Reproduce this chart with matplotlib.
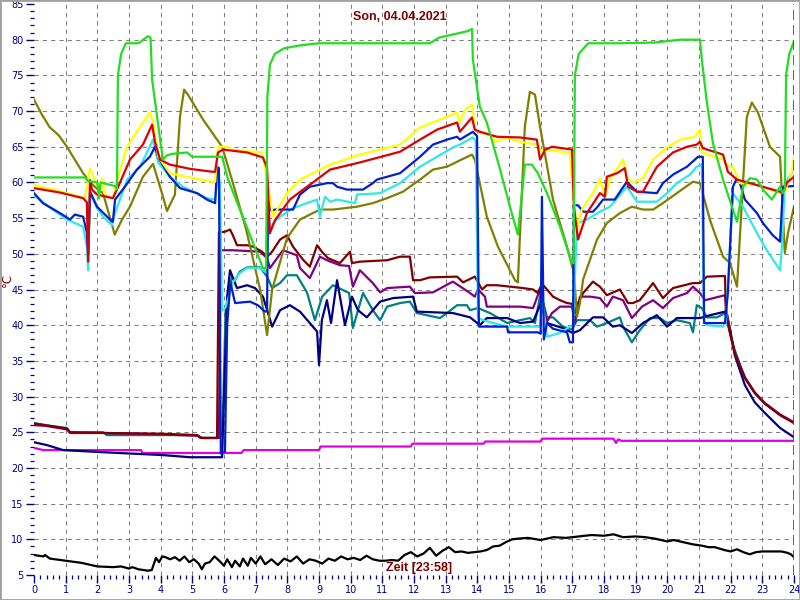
import numpy as np
import matplotlib
matplotlib.use("Agg")
import matplotlib.pyplot as plt
from matplotlib.patches import Rectangle

# (hour, degC) points
green = [(0, 60.7), (1.61, 60.7), (1.7, 60.2), (2.0, 60.0), (2.05, 57.8), (2.1, 60.0), (2.55, 59.5), (2.62, 59.0),
         (2.65, 75.0), (2.75, 78.0), (2.9, 79.5), (3.3, 79.5), (3.45, 80.0), (3.6, 80.5), (3.68, 80.3), (3.73, 74.4),
         (4.07, 63.2), (4.2, 63.8), (4.36, 64.0), (4.83, 64.2), (5.0, 63.6), (5.94, 63.6), (6.13, 60.4), (7.23, 48.0),
         (7.33, 48.0), (7.37, 72.0), (7.45, 76.5), (7.6, 78.0), (7.9, 78.8), (8.4, 79.2), (9.0, 79.5), (12.5, 79.5),
         (12.8, 80.3), (13.3, 80.8), (13.7, 81.2), (13.83, 81.5), (13.86, 77.2), (14.08, 70.6), (14.3, 68.4),
         (14.72, 61.8), (15.03, 56.6), (15.28, 52.7), (15.5, 62.5), (15.72, 62.5), (15.91, 61.3), (16.2, 58.5),
         (16.61, 53.8), (16.99, 48.7), (17.04, 48.7), (17.08, 75.0), (17.2, 78.0), (17.5, 79.5), (18.5, 79.5),
         (19.6, 79.6), (20.4, 80.0), (21.03, 80.0), (21.09, 77.2), (21.19, 73.4), (21.25, 71.2), (21.44, 65.5),
         (21.76, 60.4), (22.04, 56.6), (22.2, 54.5), (22.39, 59.4), (22.61, 60.6), (22.83, 60.4), (23.02, 59.0),
         (23.3, 57.6), (23.56, 59.4), (23.65, 58.5), (23.71, 59.0), (23.75, 75.0), (23.85, 78.0), (24.0, 79.8)]

olive = [(0, 71.6), (0.25, 69.5), (0.5, 67.7), (0.66, 67.1), (0.8, 66.5), (1.04, 65.0), (1.55, 61.3), (1.8, 59.9),
         (2.02, 59.0), (2.18, 58.5), (2.55, 52.7), (2.78, 54.8), (3.03, 56.6), (3.44, 60.8), (3.76, 62.6), (4.04, 58.5),
         (4.2, 56.0), (4.45, 58.3), (4.61, 69.2), (4.74, 73.0), (4.86, 72.3), (5.34, 68.8), (5.78, 66.0), (5.94, 65.0),
         (6.25, 60.4), (6.7, 53.4), (7.14, 45.0), (7.36, 38.6), (7.52, 45.0), (7.99, 52.2), (8.4, 54.8), (9.03, 56.2),
         (9.44, 56.2), (10.2, 56.6), (10.7, 57.1), (11.15, 57.8), (11.65, 58.7), (12.19, 60.4), (12.6, 61.8),
         (13.04, 62.2), (13.36, 62.9), (13.83, 63.9), (13.92, 63.2), (14.3, 55.2), (14.65, 51.0), (15.19, 46.3),
         (15.28, 46.0), (15.5, 67.8), (15.66, 72.7), (15.82, 72.3), (15.98, 67.8), (16.39, 57.6), (16.83, 51.0),
         (17.05, 47.3), (17.15, 41.2), (17.24, 43.1), (17.34, 46.4), (17.78, 52.0), (18.09, 54.3), (18.5, 55.7),
         (18.88, 56.6), (19.23, 56.2), (19.55, 56.2), (19.86, 57.1), (20.3, 58.5), (20.81, 60.1), (21.03, 59.9),
         (21.35, 54.7), (21.76, 49.6), (21.98, 48.7), (22.2, 45.4), (22.51, 69.2), (22.67, 71.2), (22.86, 69.8),
         (23.24, 65.0), (23.56, 63.6), (23.71, 50.1), (23.81, 52.9), (24.0, 56.6)]

yellow = [(0, 59.6), (0.8, 58.8), (1.61, 57.8), (1.77, 62.0), (1.93, 60.3), (2.08, 58.9), (2.15, 60.5), (2.22, 58.5),
          (2.34, 58.0), (2.49, 57.8), (2.62, 60.3), (2.94, 65.0), (3.35, 67.8), (3.66, 69.8), (3.76, 68.4), (3.92, 63.6),
          (4.29, 61.3), (4.83, 60.8), (5.62, 60.1), (5.72, 60.1), (5.81, 65.0), (6.09, 65.0), (6.25, 64.6), (7.2, 64.2),
          (7.3, 62.0), (7.55, 55.2), (7.99, 58.5), (8.4, 60.4), (9.35, 62.5), (10.29, 63.9), (11.56, 65.3),
          (12.19, 67.7), (12.82, 68.8), (13.36, 69.8), (13.45, 68.4), (13.61, 70.2), (13.83, 70.9), (13.92, 67.4),
          (14.08, 67.0), (14.4, 66.7), (14.56, 65.7), (14.94, 66.3), (15.35, 65.7), (15.88, 65.3), (16.04, 64.3),
          (16.2, 64.5), (16.92, 64.2), (17.02, 58.5), (17.15, 53.4), (17.3, 56.2), (17.65, 58.5), (17.87, 60.5),
          (18.03, 58.0), (18.19, 60.4), (18.6, 63.2), (18.72, 60.8), (18.91, 59.9), (19.23, 60.6), (19.55, 63.2),
          (19.99, 64.9), (20.4, 66.0), (20.87, 66.4), (21.03, 67.4), (21.09, 64.2), (21.76, 63.2), (21.91, 62.2),
          (22.07, 62.2), (22.29, 59.9), (22.83, 59.7), (23.56, 58.5), (23.71, 58.6), (23.93, 61.5), (24.0, 63.6)]

red = [(0, 59.2), (0.8, 58.6), (1.55, 57.8), (1.67, 57.2), (1.71, 48.9), (1.77, 60.3), (1.83, 59.0), (1.99, 58.3),
       (2.49, 57.8), (2.62, 59.0), (3.03, 63.2), (3.44, 65.3), (3.73, 68.1), (3.82, 65.7), (3.98, 63.2), (4.29, 62.5),
       (4.93, 61.9), (5.62, 61.5), (5.72, 61.5), (5.81, 64.2), (5.97, 64.6), (6.73, 64.2), (7.23, 63.5), (7.36, 62.0),
       (7.45, 52.9), (7.61, 54.7), (8.08, 57.6), (8.62, 59.4), (8.78, 59.9), (9.35, 61.8), (10.29, 62.8),
       (11.56, 64.3), (12.19, 66.0), (12.73, 67.4), (13.36, 68.4), (13.45, 67.1), (13.83, 69.1), (13.92, 67.4),
       (14.08, 67.1), (14.62, 66.4), (15.35, 66.3), (15.88, 66.0), (15.98, 63.2), (16.14, 64.6), (16.36, 65.0),
       (16.99, 64.6), (17.05, 56.6), (17.18, 52.0), (17.46, 55.7), (17.87, 58.5), (18.03, 58.0), (18.09, 60.8),
       (18.41, 61.3), (18.66, 62.0), (18.76, 59.4), (19.04, 58.7), (19.23, 58.7), (19.67, 62.2), (20.18, 64.2),
       (20.62, 65.0), (20.93, 65.3), (21.03, 65.7), (21.12, 64.8), (21.76, 63.9), (21.91, 61.5), (22.2, 60.4),
       (22.61, 59.9), (23.56, 58.7), (23.65, 58.5), (23.78, 60.0), (24.0, 60.8)]

cyan = [(0, 58.2), (0.5, 56.5), (1.04, 54.8), (1.55, 53.8), (1.67, 51.0), (1.71, 47.7), (1.77, 58.5), (1.99, 56.4),
        (2.18, 55.2), (2.46, 54.0), (2.56, 55.7), (2.94, 60.4), (3.35, 62.2), (3.76, 66.0), (3.92, 62.8), (4.29, 60.8),
        (4.7, 59.4), (5.46, 57.8), (5.72, 57.6), (5.8, 61.0), (5.87, 60.0), (5.94, 42.0), (6.05, 42.5), (6.28, 46.0),
        (6.5, 47.3), (6.73, 48.0), (7.14, 48.0), (7.29, 47.5), (7.36, 48.5), (7.39, 52.4), (7.55, 54.3), (7.77, 55.2),
        (8.18, 56.4), (8.94, 57.6), (9.03, 55.2), (9.19, 58.0), (9.35, 57.3), (9.57, 57.6), (10.14, 57.1),
        (10.2, 58.3), (10.93, 58.5), (11.56, 59.9), (12.19, 62.2), (12.73, 63.6), (13.23, 64.9), (13.45, 65.3),
        (13.86, 66.3), (13.95, 65.8), (14.02, 41.0), (14.18, 40.7), (14.94, 39.8), (15.76, 39.8), (15.98, 39.8),
        (16.04, 44.0), (16.2, 38.4), (16.61, 38.9), (16.92, 39.8), (17.02, 40.0), (17.15, 54.3), (17.46, 54.8),
        (17.87, 55.9), (18.19, 56.6), (18.72, 59.4), (19.04, 57.3), (19.67, 57.3), (19.99, 58.5), (20.3, 59.9),
        (20.71, 61.1), (20.93, 62.2), (21.09, 62.5), (21.16, 40.5), (21.25, 40.0), (21.76, 39.8), (21.85, 40.5),
        (22.07, 58.5), (22.39, 56.6), (22.83, 52.9), (23.14, 50.5), (23.56, 47.7), (23.62, 51.0), (23.71, 59.9),
        (23.93, 61.3), (24.0, 62.0)]

blue = [(0, 58.5), (0.28, 57.1), (0.82, 55.7), (1.14, 54.8), (1.29, 55.5), (1.55, 55.2), (1.67, 53.0), (1.71, 50.0),
        (1.77, 58.7), (1.99, 56.6), (2.4, 54.8), (2.49, 54.5), (2.56, 57.6), (2.87, 59.4), (3.25, 61.8), (3.66, 63.6),
        (3.82, 65.0), (3.92, 63.5), (4.29, 60.8), (4.61, 59.2), (5.15, 58.5), (5.46, 57.6), (5.72, 57.1),
        (5.78, 62.2), (5.84, 62.0), (5.9, 22.0), (6.03, 22.3), (6.1, 40.0), (6.2, 46.0), (6.35, 43.1), (6.82, 43.3),
        (7.07, 42.8), (7.29, 41.9), (7.36, 42.0), (7.39, 57.6), (7.5, 56.0), (7.61, 56.2), (8.18, 56.2), (8.4, 58.3),
        (8.71, 59.4), (9.25, 59.9), (9.44, 59.9), (9.57, 59.4), (9.88, 59.0), (10.39, 59.0), (10.7, 59.9),
        (10.83, 60.4), (11.56, 61.3), (12.19, 63.6), (12.6, 65.3), (13.04, 66.0), (13.36, 66.4), (13.45, 66.0),
        (13.86, 67.1), (13.99, 66.5), (14.05, 39.8), (14.94, 39.8), (14.97, 39.0), (15.91, 39.0), (16.0, 38.8),
        (16.04, 58.0), (16.1, 38.0), (16.2, 40.3), (16.39, 39.5), (16.83, 39.0), (16.92, 37.6), (17.02, 37.6),
        (17.05, 56.8), (17.18, 56.8), (17.34, 55.9), (17.65, 55.9), (17.78, 56.5), (17.97, 57.6), (18.34, 57.6),
        (18.72, 60.1), (19.04, 58.7), (19.67, 58.5), (19.86, 59.9), (20.18, 61.1), (20.62, 62.2), (20.97, 63.6),
        (21.12, 63.6), (21.16, 40.3), (21.82, 40.3), (21.91, 44.5), (22.07, 59.4), (22.2, 60.6), (22.29, 59.9),
        (22.45, 57.6), (22.83, 55.7), (23.02, 54.3), (23.33, 52.6), (23.56, 51.7), (23.65, 59.4), (24.0, 59.5)]

maroon = [(0, 26.2), (0.35, 26.0), (1.04, 25.5), (1.14, 25.0), (2.18, 24.9), (4.0, 24.8), (5.15, 24.6), (5.3, 24.2),
          (5.78, 24.2), (5.84, 53.0), (6.03, 53.1), (6.19, 53.4), (6.28, 52.6), (6.41, 51.2), (6.73, 51.2),
          (6.92, 51.0), (7.2, 50.3), (7.36, 49.6), (7.52, 50.3), (7.77, 52.0), (7.99, 52.6), (8.18, 51.0),
          (8.49, 49.2), (8.71, 48.2), (8.94, 51.2), (9.09, 50.3), (9.28, 49.4), (9.66, 48.7), (9.98, 50.3),
          (10.04, 48.7), (10.29, 48.9), (11.15, 49.1), (11.56, 49.6), (11.87, 49.6), (11.97, 46.3), (12.19, 46.3),
          (12.5, 46.7), (13.36, 46.8), (13.55, 46.0), (13.92, 46.8), (14.15, 45.0), (14.3, 45.6), (14.62, 45.6),
          (15.44, 45.2), (15.76, 45.0), (15.91, 44.5), (16.04, 45.8), (16.2, 45.0), (16.39, 44.0), (16.61, 43.5),
          (16.83, 43.1), (16.99, 43.0), (17.08, 41.7), (17.18, 43.1), (17.34, 44.5), (17.65, 46.1), (17.87, 45.4),
          (18.09, 44.2), (18.5, 45.0), (18.76, 43.1), (18.91, 43.1), (19.13, 43.5), (19.55, 45.9), (19.86, 43.8),
          (20.18, 45.2), (20.81, 45.9), (21.03, 45.9), (21.25, 46.8), (21.82, 46.9), (21.85, 41.5), (22.0, 38.5),
          (22.13, 36.0), (22.45, 32.6), (22.76, 30.5), (23.08, 29.0), (23.56, 27.4), (24.0, 26.3)]

purple = [(0, 26.0), (0.35, 25.9), (1.04, 25.4), (1.14, 24.9), (2.18, 24.9), (4.0, 24.7), (5.15, 24.5), (5.3, 24.2),
          (5.84, 24.2), (5.9, 50.5), (6.28, 50.5), (7.14, 50.3), (7.36, 49.4), (7.45, 48.0), (7.86, 50.5),
          (8.3, 49.8), (8.4, 48.0), (8.71, 46.6), (9.03, 49.6), (9.25, 49.1), (9.66, 48.4), (9.95, 48.3),
          (10.07, 45.4), (10.29, 47.7), (10.7, 45.9), (10.93, 44.6), (11.15, 45.2), (11.87, 45.4), (12.03, 44.5),
          (12.6, 44.6), (13.14, 45.9), (13.23, 46.1), (13.77, 44.5), (13.92, 44.0), (14.02, 45.0), (14.24, 44.0),
          (14.3, 42.6), (15.35, 42.6), (15.76, 42.4), (15.98, 45.0), (16.2, 40.5), (16.36, 41.7), (16.61, 42.6),
          (16.99, 42.6), (17.08, 40.3), (17.24, 44.0), (17.56, 44.0), (17.87, 43.8), (18.09, 42.6), (18.28, 44.0),
          (18.6, 43.5), (18.88, 41.0), (19.2, 42.6), (19.55, 43.5), (19.86, 42.4), (20.18, 43.8), (20.62, 44.5),
          (20.81, 45.4), (21.03, 44.5), (21.19, 43.5), (21.82, 44.2), (21.88, 41.7), (22.0, 38.6), (22.13, 36.1),
          (22.45, 32.7), (22.76, 30.6), (23.08, 29.1), (23.56, 27.5), (24.0, 26.4)]

teal = [(0, 26.3), (0.35, 26.0), (1.04, 25.6), (1.14, 25.0), (2.18, 25.0), (2.3, 24.6), (5.15, 24.6), (5.25, 24.2),
        (5.81, 24.2), (5.87, 25.0), (5.95, 24.5), (6.05, 42.0), (6.25, 46.8), (6.35, 46.3), (6.5, 47.5), (6.73, 48.1),
        (7.14, 48.1), (7.36, 46.8), (7.52, 45.2), (7.77, 45.9), (7.99, 47.0), (8.3, 47.0), (8.62, 44.6), (8.87, 40.7),
        (9.1, 44.0), (9.44, 45.6), (9.95, 44.5), (10.07, 39.6), (10.39, 44.5), (10.7, 42.1), (10.93, 40.7),
        (11.15, 42.6), (11.56, 43.1), (11.87, 43.3), (12.09, 41.7), (12.82, 41.0), (13.04, 41.7), (13.36, 42.8),
        (13.67, 42.8), (13.77, 42.1), (14.02, 42.4), (14.4, 41.7), (14.94, 40.3), (15.35, 40.7), (15.66, 41.0),
        (15.82, 40.3), (16.0, 44.5), (16.2, 41.1), (16.39, 41.1), (16.7, 39.8), (16.99, 39.4), (17.15, 40.7),
        (17.56, 40.7), (17.78, 39.8), (18.09, 40.3), (18.5, 41.1), (18.6, 39.8), (18.88, 37.6), (19.13, 39.3),
        (19.45, 41.0), (19.77, 41.0), (19.99, 40.3), (20.3, 40.7), (20.71, 40.3), (20.81, 39.0), (20.93, 42.8),
        (21.09, 42.4), (21.25, 41.1), (21.57, 41.1), (21.82, 41.7), (21.88, 40.7), (22.0, 38.5), (22.13, 36.5),
        (22.45, 32.6), (22.76, 30.5), (23.08, 29.0), (23.56, 27.4), (24.0, 26.3)]

navy = [(0, 23.6), (0.41, 23.2), (0.92, 22.5), (2.18, 22.2), (4.07, 21.8), (4.93, 21.5), (5.94, 21.5), (6.1, 44.0),
        (6.19, 47.7), (6.41, 45.2), (6.73, 45.6), (6.98, 45.2), (7.23, 44.0), (7.39, 41.7), (7.52, 39.8),
        (7.77, 42.1), (8.08, 42.8), (8.4, 41.9), (8.71, 40.3), (8.94, 39.1), (9.0, 34.4), (9.09, 40.7), (9.25, 43.5),
        (9.38, 40.3), (9.57, 46.3), (9.82, 40.0), (10.04, 44.0), (10.23, 42.1), (10.51, 41.1), (10.93, 43.3),
        (11.34, 43.8), (11.97, 44.0), (12.09, 41.9), (13.23, 41.7), (13.77, 41.1), (14.08, 40.0), (14.3, 41.0),
        (14.94, 41.0), (15.35, 40.3), (15.76, 40.5), (16.0, 43.0), (16.2, 40.3), (16.7, 39.6), (17.02, 38.9),
        (17.24, 39.3), (17.65, 41.1), (17.97, 41.1), (18.28, 39.8), (18.5, 40.0), (18.88, 38.9), (19.23, 40.3),
        (19.67, 41.4), (19.99, 39.8), (20.3, 41.0), (21.03, 41.0), (21.35, 41.4), (21.82, 41.9), (21.88, 41.5),
        (22.0, 39.0), (22.13, 35.8), (22.45, 31.6), (22.76, 29.2), (23.08, 27.7), (23.56, 25.6), (24.0, 24.3)]

magenta = [(0, 22.8), (0.3, 22.5), (3.38, 22.5), (3.42, 22.1), (6.55, 22.1), (6.62, 22.5), (9.0, 22.5),
           (9.05, 23.0), (11.9, 23.0), (11.95, 23.4), (14.2, 23.4), (14.25, 23.7), (16.0, 23.7), (16.05, 24.1),
           (18.3, 24.1), (18.38, 23.5), (18.45, 24.0), (18.55, 23.8), (24.0, 23.8)]

outdoor = [(0, 7.8), (0.3, 7.6), (0.35, 7.8), (0.5, 7.3), (1.0, 7.0), (1.5, 6.7), (2.0, 6.2), (2.5, 6.1), (2.75, 6.2),
           (3.0, 5.9), (3.1, 6.1), (3.3, 5.8), (3.6, 5.6), (3.72, 5.7), (3.85, 7.4), (3.95, 6.8), (4.05, 7.6),
           (4.15, 7.5), (4.3, 7.2), (4.45, 7.5), (4.6, 7.0), (4.75, 7.6), (4.9, 6.8), (5.05, 7.2), (5.2, 6.6),
           (5.3, 5.8), (5.4, 6.6), (5.55, 6.8), (5.7, 7.6), (5.85, 7.0), (6.0, 6.3), (6.1, 7.2), (6.25, 6.1),
           (6.35, 7.0), (6.5, 6.2), (6.6, 7.3), (6.75, 6.3), (6.85, 7.4), (7.0, 6.6), (7.15, 7.6), (7.3, 6.5),
           (7.5, 7.2), (7.7, 6.4), (7.9, 7.3), (8.1, 6.9), (8.3, 7.6), (8.5, 6.6), (8.7, 7.2), (8.9, 7.0), (9.1, 6.6),
           (9.3, 7.3), (9.5, 7.0), (9.7, 7.6), (9.9, 7.2), (10.1, 7.4), (10.3, 7.1), (10.5, 7.7), (10.7, 7.2),
           (10.9, 7.0), (11.1, 7.0), (11.3, 7.1), (11.5, 7.0), (11.7, 7.8), (11.9, 8.2), (12.1, 7.6), (12.3, 8.0),
           (12.5, 8.8), (12.7, 7.7), (12.9, 8.4), (13.1, 8.9), (13.3, 8.2), (13.5, 8.3), (13.7, 8.1), (13.9, 8.2),
           (14.1, 8.3), (14.3, 8.5), (14.5, 9.0), (14.7, 9.1), (14.9, 9.6), (15.1, 10.0), (15.3, 10.1), (15.6, 10.2),
           (16.0, 9.9), (16.4, 10.3), (16.8, 10.2), (17.2, 10.4), (17.6, 10.6), (18.0, 10.5), (18.3, 10.7),
           (18.6, 10.3), (19.0, 10.4), (19.3, 10.3), (19.6, 10.1), (20.0, 9.7), (20.2, 9.9), (20.5, 9.6), (20.8, 9.3),
           (21.1, 9.1), (21.3, 8.9), (21.5, 8.9), (21.8, 8.5), (22.0, 8.3), (22.2, 8.6), (22.4, 8.2), (22.6, 7.9),
           (22.8, 8.2), (23.0, 8.3), (23.3, 8.3), (23.6, 8.3), (23.8, 8.1), (23.9, 7.9), (24.0, 7.5)]

series = [(magenta, '#e000e0'), (outdoor, '#000000'), (teal, '#008080'), (navy, '#000080'),
          (purple, '#800080'), (maroon, '#800000'), (olive, '#808000'), (cyan, '#30e8e8'),
          (blue, '#0020d0'), (yellow, '#ffff00'), (red, '#dd0000'), (green, '#22dd22')]

fig = plt.figure(figsize=(8, 6), dpi=100)
ax = fig.add_axes([34 / 800, 1 - 575 / 600, 760 / 800, 571 / 600])

# dashed grid
for h in range(1, 24):
    ax.axvline(h, color='#808080', lw=0.75, ls=(0, (4, 4)), zorder=0)
for t in range(10, 85, 5):
    ax.axhline(t, color='#808080', lw=0.75, ls=(0, (4, 4)), zorder=0)

for data, col in series:
    t, v = zip(*data)
    ax.plot(t, v, color=col, lw=1.6)

ax.axvline(24, color='#008000', lw=1.2, ls=(0, (6, 3)), zorder=5)

ax.set_xlim(0, 24)
ax.set_ylim(5, 85)
ax.set_xticks(range(0, 25))
ax.set_xticks(np.arange(0, 24.01, 0.2), minor=True)
ax.set_yticks(range(5, 86, 5))
ax.set_yticks(range(5, 86), minor=True)
ax.tick_params(which='major', direction='out', length=6, width=1.0, colors='#000080', labelsize=7, pad=1.5)
ax.tick_params(which='minor', direction='out', length=3, width=0.9, colors='#000080')
for s in ax.spines.values():
    s.set_visible(False)

fig.text(400 / 800, 1 - 17 / 600, 'Son, 04.04.2021', color='#800000', fontsize=9, fontweight='bold',
         family='Liberation Sans', ha='center', va='center')
fig.text(419 / 800, 1 - 568 / 600, 'Zeit [23:58]', color='#800000', fontsize=9, fontweight='bold',
         family='Liberation Sans', ha='center', va='center')
fig.text(7 / 800, 1 - 280 / 600, '°C', color='#800000', fontsize=8.5, rotation=90, ha='center', va='center')

fig.patches.append(Rectangle((0, 0), 1, 1, transform=fig.transFigure, fill=False, edgecolor='#a0a0a0', lw=2))

plt.savefig('out.png', dpi=100)
